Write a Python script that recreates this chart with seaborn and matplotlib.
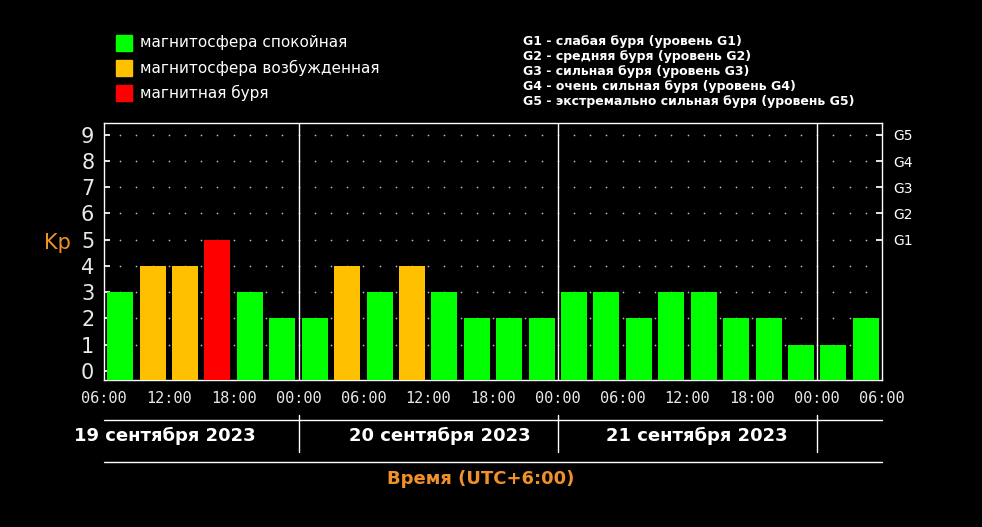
import numpy as np
import pandas as pd
import matplotlib
matplotlib.use("Agg")
import matplotlib.pyplot as plt
import seaborn as sns

# Kp index, 3-hour intervals starting 19 Sep 2023 06:00 (UTC+6)
kp_values = [3, 4, 4, 5, 3, 2,
             2, 4, 3, 4, 3, 2, 2, 2,
             3, 3, 2, 3, 3, 2, 2, 1,
             1, 2]
hour_labels = ["06:00", "12:00", "18:00", "00:00", "06:00", "12:00", "18:00",
               "00:00", "06:00", "12:00", "18:00", "00:00", "06:00"]
day_labels = ["19 сентября 2023", "20 сентября 2023", "21 сентября 2023"]
day_label_x = [165, 440, 697]
storm_labels = ["G1", "G2", "G3", "G4", "G5"]
legend_labels = ["магнитосфера спокойная", "магнитосфера возбужденная", "магнитная буря"]
storm_legend = ["G1 - слабая буря (уровень G1)",
                "G2 - средняя буря (уровень G2)",
                "G3 - сильная буря (уровень G3)",
                "G4 - очень сильная буря (уровень G4)",
                "G5 - экстремально сильная буря (уровень G5)"]

GREEN, ORANGE, RED = "#00ff00", "#ffc000", "#ff0000"
ORANGE_TEXT = "#f0902a"


def kp_color(v):
    if v >= 5:
        return RED
    if v == 4:
        return ORANGE
    return GREEN


df = pd.DataFrame({"hour": [1.5 + 3 * i for i in range(len(kp_values))],
                   "kp": kp_values})
df["color"] = df["kp"].apply(kp_color)

sns.set_theme(style="dark")
plt.rcParams["font.family"] = ["DejaVu Sans"]

fig = plt.figure(figsize=(9.82, 5.27), dpi=100, facecolor="black")
ax = fig.add_axes([104 / 982, 147 / 527, 778 / 982, 257 / 527])
ax.set_facecolor("black")

# dotted grid
gx = np.arange(1.5, 72, 1.5)
for yv in range(1, 10):
    ax.scatter(gx, [yv] * len(gx), s=1.5, color="#bbbbbb", zorder=1, linewidths=0)

ax.bar(df["hour"], df["kp"], width=2.4, bottom=0, color=df["color"],
       zorder=3, edgecolor="none")
# extend bars down to the axis bottom
ax.bar(df["hour"], [0.35] * len(df), width=2.4, bottom=-0.35, color=df["color"],
       zorder=3, edgecolor="none")

for d in (18, 42, 66):
    ax.axvline(d, color="white", lw=1, zorder=2)

ax.set_xlim(0, 72)
ax.set_ylim(-0.35, 9.45)
ax.set_yticks(range(10))
ax.set_yticklabels([str(i) for i in range(10)], color="#e8e8e8", fontsize=15)
ax.set_xticks(range(0, 73, 6))
ax.set_xticklabels(hour_labels, color="#e8e8e8", fontsize=11, family="DejaVu Sans Mono")
ax.set_xticks(range(0, 73, 3), minor=True)
ax.tick_params(axis="x", which="both", direction="in", length=4, color="white", pad=8)
ax.tick_params(axis="y", direction="in", length=4, color="white", pad=7)
for s in ax.spines.values():
    s.set_color("white")
    s.set_linewidth(1)

ax2 = ax.twinx()
ax2.set_ylim(ax.get_ylim())
ax2.set_yticks([5, 6, 7, 8, 9])
ax2.set_yticklabels(storm_labels, color="white", fontsize=10)
ax2.tick_params(axis="y", direction="in", length=4, color="white", pad=8)
ax2.grid(False)
for s in ax2.spines.values():
    s.set_visible(False)

fig.text(57 / 982, 1 - 243 / 527, "Kp", color=ORANGE_TEXT, fontsize=15, ha="center", va="center")


def fx(h):
    return (104 + h * 778 / 72) / 982


for y in (1 - 420 / 527, 1 - 462 / 527):
    fig.add_artist(plt.Line2D([fx(0), fx(72)], [y, y], color="white", lw=1))
for d in (18, 42, 66):
    fig.add_artist(plt.Line2D([fx(d), fx(d)], [1 - 415 / 527, 1 - 452 / 527], color="white", lw=1))
for lab, xpx in zip(day_labels, day_label_x):
    fig.text(xpx / 982, 1 - 436 / 527, lab, color="white",
             fontsize=13, fontweight="bold", ha="center", va="center")
fig.text(481 / 982, 1 - 479 / 527, "Время (UTC+6:00)", color=ORANGE_TEXT,
         fontsize=13, fontweight="bold", ha="center", va="center")

# legends
for i, (lab, c) in enumerate(zip(legend_labels, [GREEN, ORANGE, RED])):
    yc = 1 - (43 + 25 * i) / 527
    fig.add_artist(plt.Rectangle((116 / 982, yc - 8 / 527), 16 / 982, 16 / 527,
                                 color=c, transform=fig.transFigure))
    fig.text(140 / 982, yc, lab, color="white", fontsize=11, va="center")
for i, lab in enumerate(storm_legend):
    fig.text(523 / 982, 1 - (41 + 15.2 * i) / 527, lab, color="white", fontsize=9,
             fontweight="bold", va="center")

fig.savefig("out.png", dpi=100, facecolor="black")
